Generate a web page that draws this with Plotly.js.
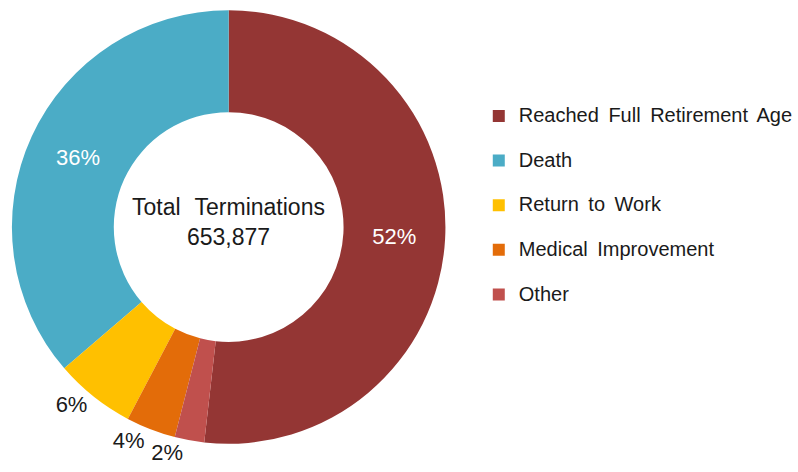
<!DOCTYPE html>
<html>
<head>
<meta charset="utf-8">
<script src="https://cdn.plot.ly/plotly-3.0.1.min.js"></script>
<style>
  html, body { margin: 0; padding: 0; background: #ffffff; }
  #chart { width: 798px; height: 472px; }
</style>
</head>
<body>
<div id="chart"></div>
<script>
// slice categories, in legend order
const categories = ['Reached Full Retirement Age', 'Death', 'Return to Work', 'Medical Improvement', 'Other'];
// number of terminations per category
const terminations = [338709, 237357, 39233, 24193, 14385];
// slice colours
const sliceColors = ['#943634', '#4BACC6', '#FFC000', '#E36C09', '#C0504D'];
// where each percentage label sits (the last one is drawn by a second, see-through trace
// so plotly does not push it away from the 4% label)
const labelPositions = ['inside', 'inside', 'outside', 'outside', 'none'];
const lastLabelPositions = ['none', 'none', 'none', 'none', 'outside'];

// total shown in the hole
const total = terminations.reduce((a, b) => a + b, 0);

// legend entries get a blank second line so the rows are spaced out like the original
const legendLabels = categories.map(c => `<span style="font-size:20px;word-spacing:4px">${c}</span><br> `);

const pieDomain = {x: [0.015, 0.561], y: [0.057, 0.981]};

const data = [{
  type: 'pie',
  labels: legendLabels,
  values: terminations,
  hole: 0.53,
  sort: false,
  direction: 'counterclockwise',
  rotation: 0,
  marker: {colors: sliceColors, line: {width: 0}},
  texttemplate: '%{percent:.0%}',
  textposition: labelPositions,
  insidetextorientation: 'horizontal',
  insidetextfont: {color: '#ffffff', size: 22},
  outsidetextfont: {color: '#1a1a1a', size: 22},
  hoverinfo: 'none',
  domain: pieDomain
}, {
  // same pie, invisible, only to draw the 2% label
  type: 'pie',
  labels: legendLabels,
  values: terminations,
  hole: 0.53,
  sort: false,
  direction: 'counterclockwise',
  rotation: 0,
  showlegend: false,
  marker: {colors: categories.map(() => 'rgba(0,0,0,0)'), line: {width: 0}},
  texttemplate: '%{percent:.0%}',
  textposition: lastLabelPositions,
  outsidetextfont: {color: '#1a1a1a', size: 22},
  hoverinfo: 'none',
  domain: pieDomain
}];

const layout = {
  width: 798,
  height: 472,
  margin: {l: 0, r: 0, t: 0, b: 0},
  paper_bgcolor: '#ffffff',
  font: {family: 'Liberation Sans, Arial, sans-serif', color: '#1a1a1a'},
  showlegend: true,
  legend: {
    x: 0.603, y: 0.79, xanchor: 'left', yanchor: 'top',
    valign: 'top',
    font: {size: 16, color: '#1a1a1a'},
    bgcolor: 'rgba(0,0,0,0)'
  },
  annotations: [{
    text: '<span style="word-spacing:8px">Total Terminations</span><br>' + total.toLocaleString('en-US'),
    x: 0.288, y: 0.53, xref: 'paper', yref: 'paper',
    xanchor: 'center', yanchor: 'middle',
    showarrow: false,
    font: {size: 23, color: '#1a1a1a'}
  }]
};

Plotly.newPlot('chart', data, layout, {staticPlot: true});
</script>
</body>
</html>
